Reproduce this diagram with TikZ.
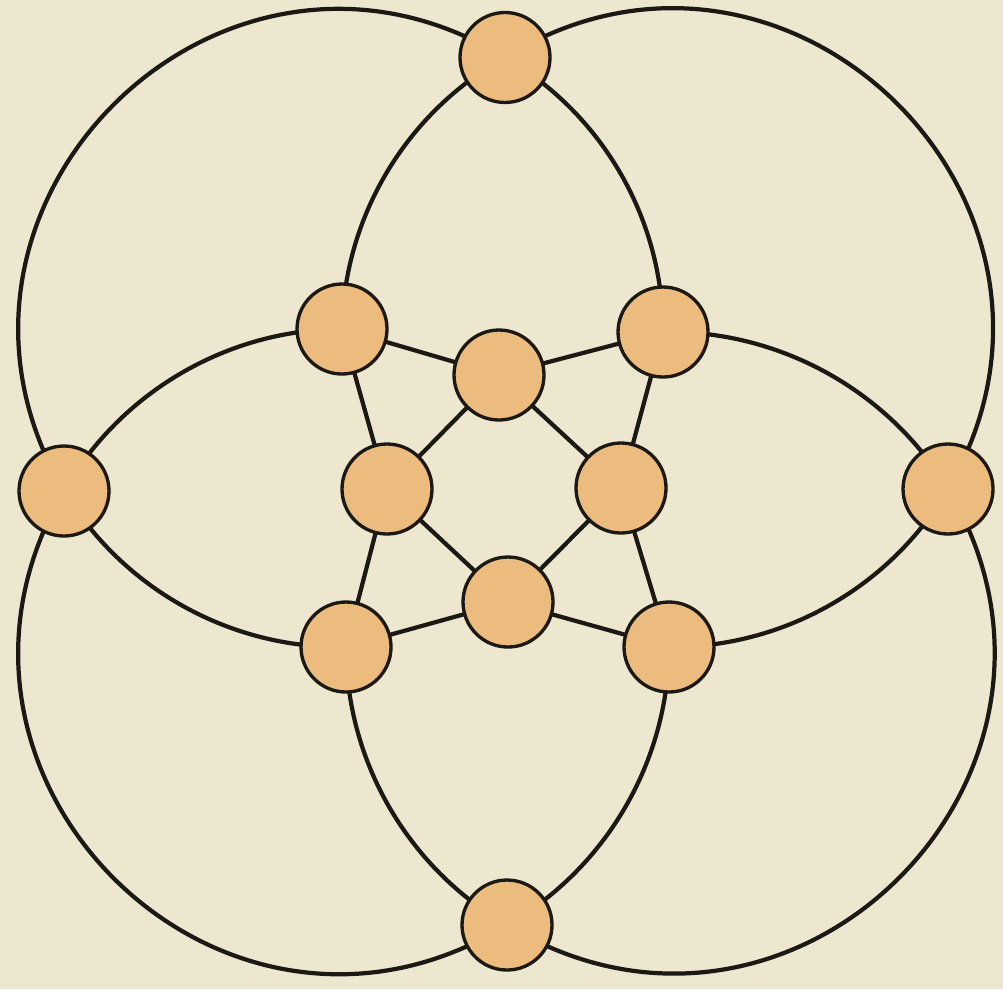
\documentclass[tikz,border=0pt]{standalone}
\usepackage{tikz}
\usetikzlibrary{backgrounds}
\definecolor{paper}{HTML}{EDE7CF}
\definecolor{ink}{HTML}{1C1914}
\definecolor{peg}{HTML}{ECBC7F}
\tikzset{
  disc/.style={circle,minimum size=9mm,inner sep=0pt,draw=ink,fill=peg,line width=.95pt},
  wire/.style={draw=ink,line width=1.2pt},
  lobe/.style={bend right=76,looseness=1.37},
  rib/.style={bend right=30,looseness=.91},
}
\begin{document}
\begin{tikzpicture}
  \useasboundingbox (0,0) rectangle (10.03,9.89);
  \node[disc] (n) at (5.05,9.315) {};
  \node[disc] (s) at (5.07,0.64) {};
  \node[disc] (w) at (0.64,4.98) {};
  \node[disc] (e) at (9.48,5.00) {};
  \node[disc] (nw) at (3.42,6.60) {};
  \node[disc] (ne) at (6.63,6.57) {};
  \node[disc] (sw) at (3.46,3.42) {};
  \node[disc] (se) at (6.69,3.42) {};
  \node[disc] (cn) at (4.99,6.14) {};
  \node[disc] (cs) at (5.08,3.87) {};
  \node[disc] (cw) at (3.87,5.00) {};
  \node[disc] (ce) at (6.21,5.01) {};
  \begin{scope}[on background layer]
    \fill[paper] (0,0) rectangle (10.03,9.89);
    \draw[wire] (ne.center) to[rib] (n.center) to[lobe] (w.center) to[rib] (sw.center);
    \draw[wire] (se.center) to[rib] (e.center) to[lobe] (n.center) to[rib] (nw.center);
    \draw[wire] (nw.center) to[rib] (w.center) to[lobe] (s.center) to[rib] (se.center);
    \draw[wire] (sw.center) to[rib] (s.center) to[lobe] (e.center) to[rib] (ne.center);
    \draw[wire] (nw.center) -- (cn.center) -- (ne.center) -- (ce.center) -- (se.center)
      -- (cs.center) -- (sw.center) -- (cw.center) -- cycle;
    \draw[wire] (cn.center) -- (ce.center) -- (cs.center) -- (cw.center) -- cycle;
  \end{scope}
\end{tikzpicture}
\end{document}
